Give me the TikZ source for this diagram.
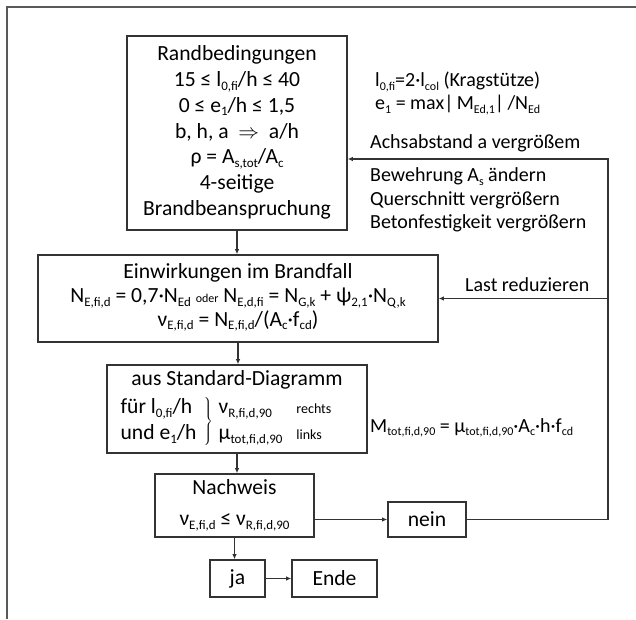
\documentclass[tikz,border=0pt]{standalone}
\usepackage{fontspec}
\setmainfont{Carlito}
\usetikzlibrary{arrows.meta}

\newcommand{\sub}[1]{\raisebox{-0.35ex}{\scalebox{0.6}{#1}}}
\def\lineCol{black!80}

\tikzset{
  flowbox/.style={draw=\lineCol, line width=1.6pt, align=center, inner sep=0pt,
    font=\fontsize{21.6}{25.8}\selectfont},
  flowline/.style={draw=\lineCol, line width=1.6pt, -{Latex[length=5pt,width=4.5pt]}},
  sidetext/.style={anchor=west, align=left, inner sep=0pt,
    font=\fontsize{20}{23.5}\selectfont}
}

\begin{document}
\begin{tikzpicture}[x=1pt,y=-1pt]
    \useasboundingbox (0,0) rectangle (636,619);
    \draw[black!65, line width=1.6pt] (7,619) -- (7,7) -- (636,7);

    \node[flowbox, minimum width=220pt, minimum height=194pt] (rand) at (237,133) {Randbedingungen\\
      15 ≤ l\sub{0,fi}/h ≤ 40\\
      0 ≤ e\sub{1}/h ≤ 1,5\\
      b, h, a \ $\Rightarrow$ \ a/h\\
      ρ = A\sub{s,tot}/A\sub{c}\\
      4-seitige\\
      Brandbeanspruchung\rule[-5pt]{0pt}{1pt}};
    \node[flowbox, minimum width=400pt, minimum height=87pt] (einw) at (238,298.5) {Einwirkungen im Brandfall\\[-2pt]
      N\sub{E,fi,d} = 0,7·N\sub{Ed} {\fontsize{12}{12}\selectfont oder} N\sub{E,d,fi} = N\sub{G,k} + ψ\sub{2,1}·N\sub{Q,k}\\[-2pt]
      ν\sub{E,fi,d} = N\sub{E,fi,d}/(A\sub{c}·f\sub{cd})\rule[-7pt]{0pt}{1pt}};
    \node[flowbox, minimum width=260pt, minimum height=88pt] (diag) at (237,409) {aus Standard-Diagramm\\[5pt]
      \renewcommand{\arraystretch}{1.0}%
      \begin{tabular}{@{}l@{}}für l\sub{0,fi}/h\\und e\sub{1}/h\end{tabular}\;%
      $\left.\vphantom{\rule[-19pt]{0pt}{29pt}}\right\}$\;%
      \begin{tabular}{@{}l@{\hspace{14pt}}l@{}}ν\sub{R,fi,d,90} & {\fontsize{14}{14}\selectfont rechts}\\
        μ\sub{tot,fi,d,90} & {\fontsize{14}{14}\selectfont links}\end{tabular}\hspace{22pt}\rule[-4pt]{0pt}{1pt}};
    \node[flowbox, minimum width=159pt, minimum height=63pt] (nachweis) at (234.5,505.5) {Nachweis\\[5pt]
      ν\sub{E,fi,d} ≤ ν\sub{R,fi,d,90}};
    \node[flowbox, minimum width=78pt, minimum height=35pt] (nein) at (427,519.5) {nein};
    \node[flowbox, minimum width=55pt, minimum height=37pt] (ja) at (237.5,578.5) {ja};
    \node[flowbox, minimum width=85pt, minimum height=37pt] (ende) at (334.5,578.5) {Ende};

    \node[sidetext] (laenge) at (375,82) {l\sub{0,fi}=2·l\sub{col} (Kragstütze)};
    \node[sidetext] (exz) at (375,105) {e\sub{1} = max|\,M\sub{Ed,1}|\,/N\sub{Ed}};
    \node[sidetext] (achs) at (370,143) {Achsabstand a vergrößem};
    \node[sidetext] (massnahmen) at (370,200) {Bewehrung A\sub{s} ändern\\Querschnitt vergrößern\\Betonfestigkeit vergrößern};
    \node[sidetext] (last) at (465,285) {Last reduzieren};
    \node[sidetext] (moment) at (370,428) {M\sub{tot,fi,d,90} = μ\sub{tot,fi,d,90}·A\sub{c}·h·f\sub{cd}};

    \foreach \a/\b in {rand/einw, einw/diag, diag/nachweis, nachweis/ja} {
      \draw[flowline] (\a.south) -- (\a.south |- \b.north);
    }
    \draw[flowline] (nachweis.east |- nein.west) -- (nein.west);
    \draw[flowline] (ja) -- (ende);

    \coordinate (ecke) at (608,159);
    \draw[flowline] (nein.east) -| (ecke) -- (ecke -| rand.east);
    \draw[flowline] (einw.east -| ecke) -- (einw.east);
\end{tikzpicture}
\end{document}
